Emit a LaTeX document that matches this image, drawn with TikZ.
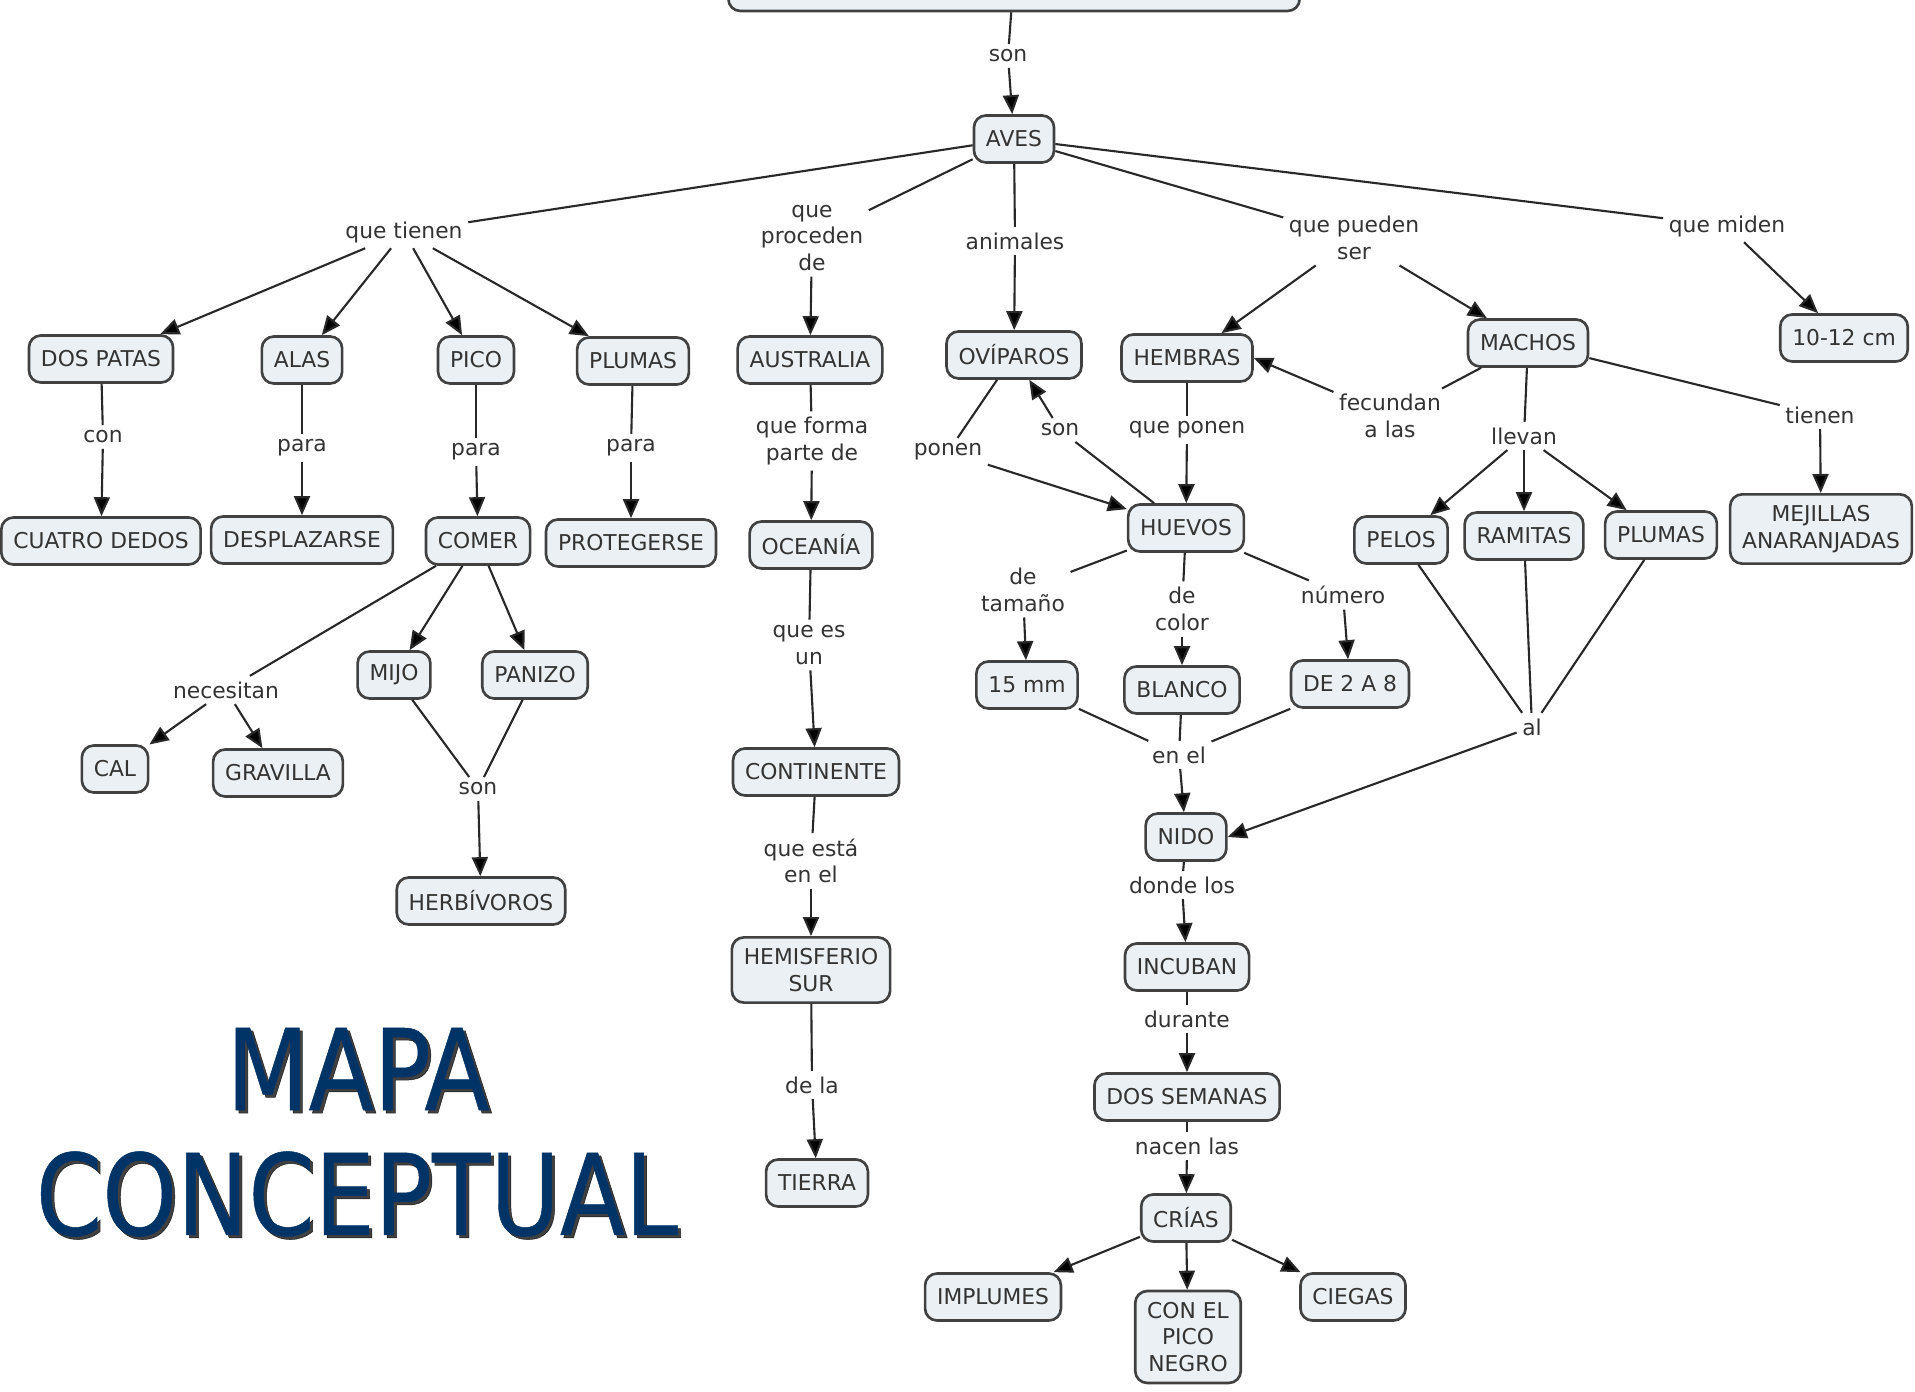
\documentclass[tikz,border=0pt]{standalone}
\usepackage{fontspec}
\setmainfont{DejaVu Sans}
\newfontfamily\titlefont[FakeBold=0.45]{DejaVu Sans Condensed}
\usetikzlibrary{arrows.meta}
\definecolor{nodefill}{RGB}{234,240,243}
\definecolor{nodeline}{RGB}{65,65,65}
\definecolor{linkline}{RGB}{40,40,40}
\definecolor{titleblue}{RGB}{0,51,102}
\tikzset{
    concept/.style={rectangle, rounded corners=0.12cm, draw=nodeline, fill=nodefill, line width=0.75pt, inner xsep=0.12cm, inner ysep=0.11cm, minimum height=0.47cm, align=center, font=\fontsize{6.2}{7.6}\selectfont, text=black!80},
    linkword/.style={inner sep=0.05cm, align=center, font=\fontsize{6.2}{7.6}\selectfont, text=black!80},
    myline/.style={draw=linkline, line width=0.6pt},
    myarrow/.style={myline, -{Triangle[length=0.19cm, width=0.16cm, fill=black]}},
    titletext/.style={font=\titlefont\fontsize{32}{32}\selectfont, text=titleblue}
}

\begin{document}
\begin{tikzpicture}[x=0.01cm, y=-0.01cm]
\useasboundingbox (0,0) rectangle (1915,1392);

\node[concept, minimum width=5.71cm, minimum height=0.72cm] (root) at (1014,-25) {};
\node[linkword] (son1) at (1008,56) {son};
\node[concept] (aves) at (1014,139) {AVES};

\node[linkword] (quetienen) at (404,232) {que tienen};
\node[linkword] (queproceden) at (812,238) {que\\proceden\\de};
\node[linkword] (animales) at (1015,241) {animales};
\node[linkword] (quepueden) at (1354,238) {que pueden\\ser};
\node[linkword] (quemiden) at (1727,226) {que miden};

\node[concept] (dospatas) at (101,359) {DOS PATAS};
\node[concept] (alas) at (302,360) {ALAS};
\node[concept] (pico) at (476,360) {PICO};
\node[concept] (plumas) at (633,361) {PLUMAS};
\node[concept] (australia) at (810,360) {AUSTRALIA};
\node[concept] (oviparos) at (1014,355) {OVÍPAROS};
\node[concept] (hembras) at (1187,358) {HEMBRAS};
\node[concept] (machos) at (1528,343) {MACHOS};
\node[concept] (medida) at (1844,338) {10-12 cm};

\node[linkword] (con) at (103,437) {con};
\node[linkword] (para1) at (302,448) {para};
\node[linkword] (para2) at (476,452) {para};
\node[linkword] (para3) at (631,448) {para};
\node[linkword] (queforma) at (812,441) {que forma\\parte de};

\node[concept] (cuatrodedos) at (101,541) {CUATRO DEDOS};
\node[concept] (desplazarse) at (302,540) {DESPLAZARSE};
\node[concept] (comer) at (478,541) {COMER};
\node[concept] (protegerse) at (631,543) {PROTEGERSE};
\node[concept] (oceania) at (811,545) {OCEANÍA};

\node[linkword] (quees) at (809,645) {que es\\un};
\node[concept] (continente) at (816,772) {CONTINENTE};
\node[linkword] (queesta) at (811,861) {que está\\en el};
\node[concept] (hemisferio) at (811,970) {HEMISFERIO\\SUR};
\node[linkword] (dela) at (812,1085) {de la};
\node[concept] (tierra) at (817,1183) {TIERRA};

\node[linkword] (necesitan) at (226,690) {necesitan};
\node[concept] (cal) at (115,769) {CAL};
\node[concept] (gravilla) at (278,773) {GRAVILLA};
\node[concept] (mijo) at (394,675) {MIJO};
\node[concept] (panizo) at (535,675) {PANIZO};
\node[linkword] (son2) at (478,789) {son};
\node[concept] (herbivoros) at (481,901) {HERBÍVOROS};

\node[linkword] (ponen) at (948,452) {ponen};
\node[linkword] (son3) at (1060,430) {son};
\node[linkword] (queponen) at (1187,430) {que ponen};
\node[linkword] (fecundan) at (1390,416) {fecundan\\a las};
\node[concept] (huevos) at (1186,528) {HUEVOS};

\node[linkword] (detamano) at (1023,590) {de\\tamaño};
\node[linkword] (decolor) at (1182,609) {de\\color};
\node[linkword] (numero) at (1343,595) {número};
\node[concept] (mm) at (1027,685) {15 mm};
\node[concept] (blanco) at (1182,690) {BLANCO};
\node[concept] (dosaocho) at (1350,684) {DE 2 A 8};
\node[linkword] (enel) at (1179,755) {en el};
\node[concept] (nido) at (1186,837) {NIDO};

\node[linkword] (llevan) at (1524,436) {llevan};
\node[concept] (pelos) at (1401,540) {PELOS};
\node[concept] (ramitas) at (1524,536) {RAMITAS};
\node[concept] (plumasm) at (1661,535) {PLUMAS};
\node[linkword] (tienen) at (1820,415) {tienen};
\node[concept] (mejillas) at (1821,529) {MEJILLAS\\ANARANJADAS};
\node[linkword] (al) at (1532,727) {al};

\node[linkword] (dondelos) at (1182,885) {donde los};
\node[concept] (incuban) at (1187,967) {INCUBAN};
\node[linkword] (durante) at (1187,1019) {durante};
\node[concept] (dossemanas) at (1187,1097) {DOS SEMANAS};
\node[linkword] (nacenlas) at (1187,1146) {nacen las};
\node[concept] (crias) at (1186,1218) {CRÍAS};
\node[concept] (implumes) at (993,1297) {IMPLUMES};
\node[concept] (piconegro) at (1188,1337) {CON EL\\PICO\\NEGRO};
\node[concept] (ciegas) at (1353,1297) {CIEGAS};

\node[titletext, text=black, opacity=0.75] (mapasombra) at (361,1072) {\scalebox{0.94}[1]{MAPA}};
\node[titletext] (mapa) at (358,1069) {\scalebox{0.94}[1]{MAPA}};
\node[titletext, text=black, opacity=0.75] (conceptualsombra) at (360,1197) {\scalebox{0.94}[1]{CONCEPTUAL}};
\node[titletext] (conceptual) at (357,1194) {\scalebox{0.94}[1]{CONCEPTUAL}};

\draw[myline] (root) -- (son1);
\draw[myarrow] (son1) -- (aves);
\foreach \w in {quetienen,queproceden,animales,quepueden,quemiden}
    \draw[myline] (aves) -- (\w);
\foreach \c in {dospatas,alas,pico,plumas}
    \draw[myarrow] (quetienen) -- (\c);
\draw[myarrow] (queproceden) -- (australia);
\draw[myarrow] (animales) -- (oviparos);
\draw[myarrow] (quepueden) -- (hembras);
\draw[myarrow] (quepueden) -- (machos);
\draw[myarrow] (quemiden) -- (medida);

\draw[myline] (dospatas) -- (con);
\draw[myarrow] (con) -- (cuatrodedos);
\draw[myline] (alas) -- (para1);
\draw[myarrow] (para1) -- (desplazarse);
\draw[myline] (pico) -- (para2);
\draw[myarrow] (para2) -- (comer);
\draw[myline] (plumas) -- (para3);
\draw[myarrow] (para3) -- (protegerse);

\draw[myline] (australia) -- (queforma);
\draw[myarrow] (queforma) -- (oceania);
\draw[myline] (oceania) -- (quees);
\draw[myarrow] (quees) -- (continente);
\draw[myline] (continente) -- (queesta);
\draw[myarrow] (queesta) -- (hemisferio);
\draw[myline] (hemisferio) -- (dela);
\draw[myarrow] (dela) -- (tierra);

\draw[myline] (comer) -- (necesitan);
\draw[myarrow] (necesitan) -- (cal);
\draw[myarrow] (necesitan) -- (gravilla);
\draw[myarrow] (comer) -- (mijo);
\draw[myarrow] (comer) -- (panizo);
\draw[myline] (mijo) -- (son2);
\draw[myline] (panizo) -- (son2);
\draw[myarrow] (son2) -- (herbivoros);

\draw[myline] (oviparos) -- (ponen);
\draw[myarrow] (ponen) -- (huevos);
\draw[myline] (huevos) -- (son3);
\draw[myarrow] (son3) -- (oviparos);
\draw[myline] (hembras) -- (queponen);
\draw[myarrow] (queponen) -- (huevos);
\draw[myline] (machos) -- (fecundan);
\draw[myarrow] (fecundan) -- (hembras.east);

\draw[myline] (huevos) -- (detamano);
\draw[myarrow] (detamano) -- (mm);
\draw[myline] (huevos) -- (decolor);
\draw[myarrow] (decolor) -- (blanco);
\draw[myline] (huevos) -- (numero);
\draw[myarrow] (numero) -- (dosaocho);
\foreach \c in {mm,blanco,dosaocho}
    \draw[myline] (\c) -- (enel);
\draw[myarrow] (enel) -- (nido);

\draw[myline] (machos) -- (llevan);
\foreach \c in {pelos,ramitas,plumasm}
    \draw[myarrow] (llevan) -- (\c);
\draw[myline] (machos) -- (tienen);
\draw[myarrow] (tienen) -- (mejillas);
\foreach \c in {pelos,ramitas,plumasm}
    \draw[myline] (\c) -- (al);
\draw[myarrow] (al) -- (nido.east);

\draw[myline] (nido) -- (dondelos);
\draw[myarrow] (dondelos) -- (incuban);
\draw[myline] (incuban) -- (durante);
\draw[myarrow] (durante) -- (dossemanas);
\draw[myline] (dossemanas) -- (nacenlas);
\draw[myarrow] (nacenlas) -- (crias);
\foreach \c in {implumes,piconegro,ciegas}
    \draw[myarrow] (crias) -- (\c);

\end{tikzpicture}
\end{document}
